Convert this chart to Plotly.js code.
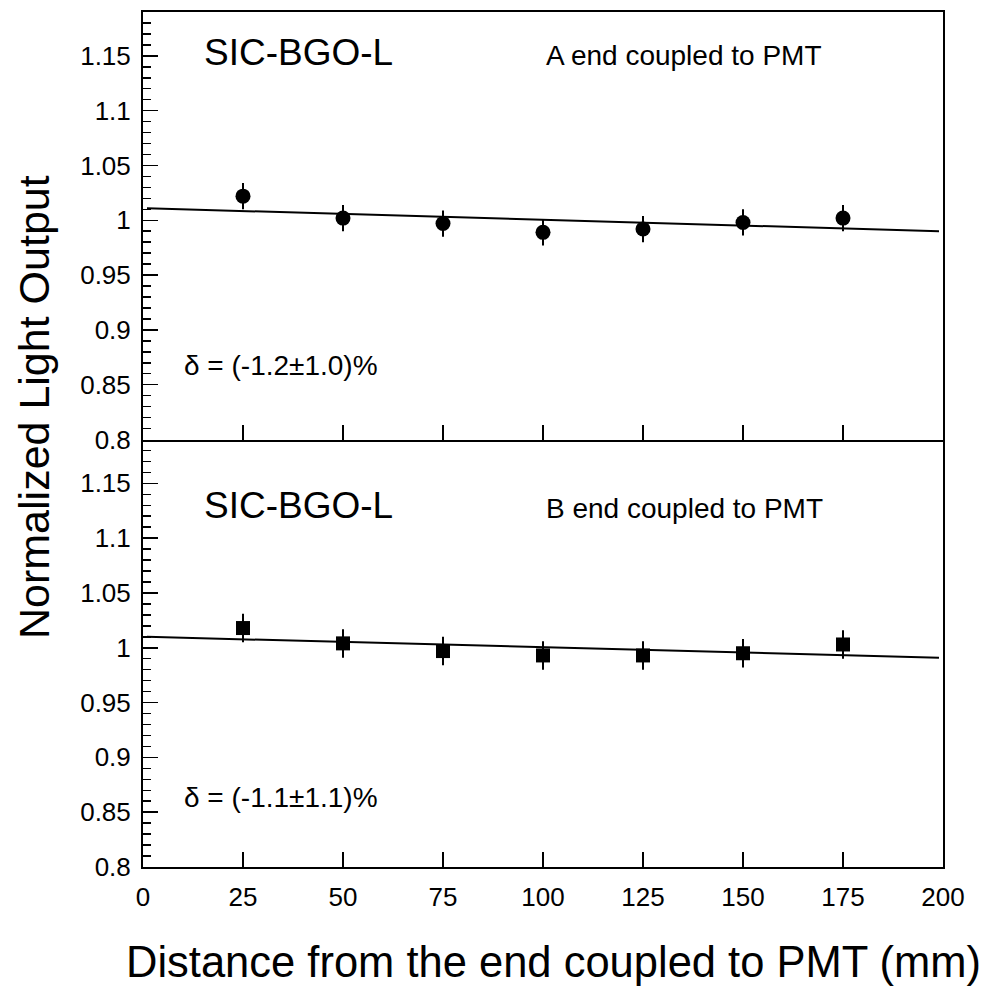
<!DOCTYPE html>
<html>
<head>
<meta charset="utf-8">
<script src="https://cdn.plot.ly/plotly-3.0.1.min.js"></script>
<style>html,body{margin:0;padding:0;background:#fff;}#plot{width:987px;height:991px;}</style>
</head>
<body>
<div id="plot"></div>
<script>
// ---- data ----
const distance = [25, 50, 75, 100, 125, 150, 175];
const lightA = [1.022, 1.002, 0.997, 0.989, 0.992, 0.998, 1.002];
const errA = [0.012, 0.012, 0.012, 0.012, 0.012, 0.012, 0.012];
const lightB = [1.018, 1.004, 0.997, 0.993, 0.993, 0.995, 1.003];
const errB = [0.013, 0.013, 0.013, 0.013, 0.013, 0.013, 0.013];
const fitX = [1, 199];
const fitA = [1.011, 0.990];
const fitB = [1.010, 0.991];
const yTickVals = [0.8, 0.85, 0.9, 0.95, 1.0, 1.05, 1.1, 1.15];
const yTickText = ["0.8", "0.85", "0.9", "0.95", "1", "1.05", "1.1", "1.15"];
const xTickVals = [0, 25, 50, 75, 100, 125, 150, 175, 200];
const labelTop = "SIC-BGO-L";
const labelBottom = "SIC-BGO-L";
const noteTop = "A end coupled to PMT";
const noteBottom = "B end coupled to PMT";
const deltaTop = "δ = (-1.2±1.0)%";
const deltaBottom = "δ = (-1.1±1.1)%";
const xTitle = "Distance from the end coupled to PMT (mm)";
const yTitle = "Normalized Light Output";

// ---- geometry helpers (pixel -> paper) ----
const W = 987, H = 991, L = 143, R = 44, T = 12, B = 124;
const pw = W - L - R, ph = H - T - B;
const px = v => (v - L) / pw;
const py = v => (H - B - v) / ph;

const FONT = "Liberation Sans, Arial, Helvetica, sans-serif";
const black = "#000";

const traces = [
  {x: distance, y: lightA, xaxis: "x", yaxis: "y", type: "scatter", mode: "markers",
   marker: {symbol: "circle", size: 15, color: black},
   error_y: {type: "data", array: errA, visible: true, width: 0, thickness: 2, color: black}},
  {x: fitX, y: fitA, xaxis: "x", yaxis: "y", type: "scatter", mode: "lines",
   line: {color: black, width: 2}},
  {x: distance, y: lightB, xaxis: "x2", yaxis: "y2", type: "scatter", mode: "markers",
   marker: {symbol: "square", size: 14, color: black},
   error_y: {type: "data", array: errB, visible: true, width: 0, thickness: 2, color: black}},
  {x: fitX, y: fitB, xaxis: "x2", yaxis: "y2", type: "scatter", mode: "lines",
   line: {color: black, width: 2}}
];

const yAxisBase = {
  range: [0.8, 1.19], tickvals: yTickVals, ticktext: yTickText,
  ticks: "inside", ticklen: 15, tickwidth: 1.5, tickcolor: black,
  minor: {dtick: 0.01, tick0: 0.8, ticks: "inside", ticklen: 8, tickwidth: 1.5, tickcolor: black, showgrid: false},
  showline: true, linewidth: 2, linecolor: black, mirror: true,
  showgrid: false, zeroline: false, fixedrange: true,
  tickfont: {family: FONT, size: 26, color: black}, ticklabelstandoff: 5
};
const xAxisBase = {
  range: [0, 200], tickvals: xTickVals,
  ticks: "inside", ticklen: 15, tickwidth: 1.5, tickcolor: black,
  showline: true, linewidth: 2, linecolor: black,
  showgrid: false, zeroline: false, fixedrange: true,
  tickfont: {family: FONT, size: 26, color: black}, ticklabelstandoff: 6
};

const layout = {
  width: W, height: H,
  margin: {l: L, r: R, t: T, b: B, pad: 0},
  paper_bgcolor: "#fff", plot_bgcolor: "#fff",
  showlegend: false,
  xaxis: Object.assign({}, xAxisBase, {anchor: "y", showticklabels: false, mirror: true}),
  yaxis: Object.assign({}, yAxisBase, {domain: [0.5, 1], anchor: "x"}),
  xaxis2: Object.assign({}, xAxisBase, {anchor: "y2", mirror: false}),
  yaxis2: Object.assign({}, yAxisBase, {domain: [0, 0.5], anchor: "x2"}),
  annotations: [
    {text: labelTop, xref: "paper", yref: "paper", x: px(202), y: py(52), xanchor: "left", yanchor: "middle", showarrow: false, font: {family: FONT, size: 37, color: black}},
    {text: noteTop, xref: "paper", yref: "paper", x: px(544), y: py(55), xanchor: "left", yanchor: "middle", showarrow: false, font: {family: FONT, size: 28, color: black}},
    {text: deltaTop, xref: "paper", yref: "paper", x: px(182), y: py(365), xanchor: "left", yanchor: "middle", showarrow: false, font: {family: FONT, size: 28, color: black}},
    {text: labelBottom, xref: "paper", yref: "paper", x: px(202), y: py(505), xanchor: "left", yanchor: "middle", showarrow: false, font: {family: FONT, size: 37, color: black}},
    {text: noteBottom, xref: "paper", yref: "paper", x: px(544), y: py(508), xanchor: "left", yanchor: "middle", showarrow: false, font: {family: FONT, size: 28, color: black}},
    {text: deltaBottom, xref: "paper", yref: "paper", x: px(182), y: py(797), xanchor: "left", yanchor: "middle", showarrow: false, font: {family: FONT, size: 28, color: black}},
    {text: xTitle, xref: "paper", yref: "paper", x: px(124), y: py(962), xanchor: "left", yanchor: "middle", showarrow: false, font: {family: FONT, size: 43.5, color: black}},
    {text: yTitle, xref: "paper", yref: "paper", x: px(34), y: py(407), xanchor: "center", yanchor: "middle", textangle: -90, showarrow: false, font: {family: FONT, size: 43, color: black}}
  ]
};

Plotly.newPlot("plot", traces, layout, {staticPlot: true, displayModeBar: false});
</script>
</body>
</html>
